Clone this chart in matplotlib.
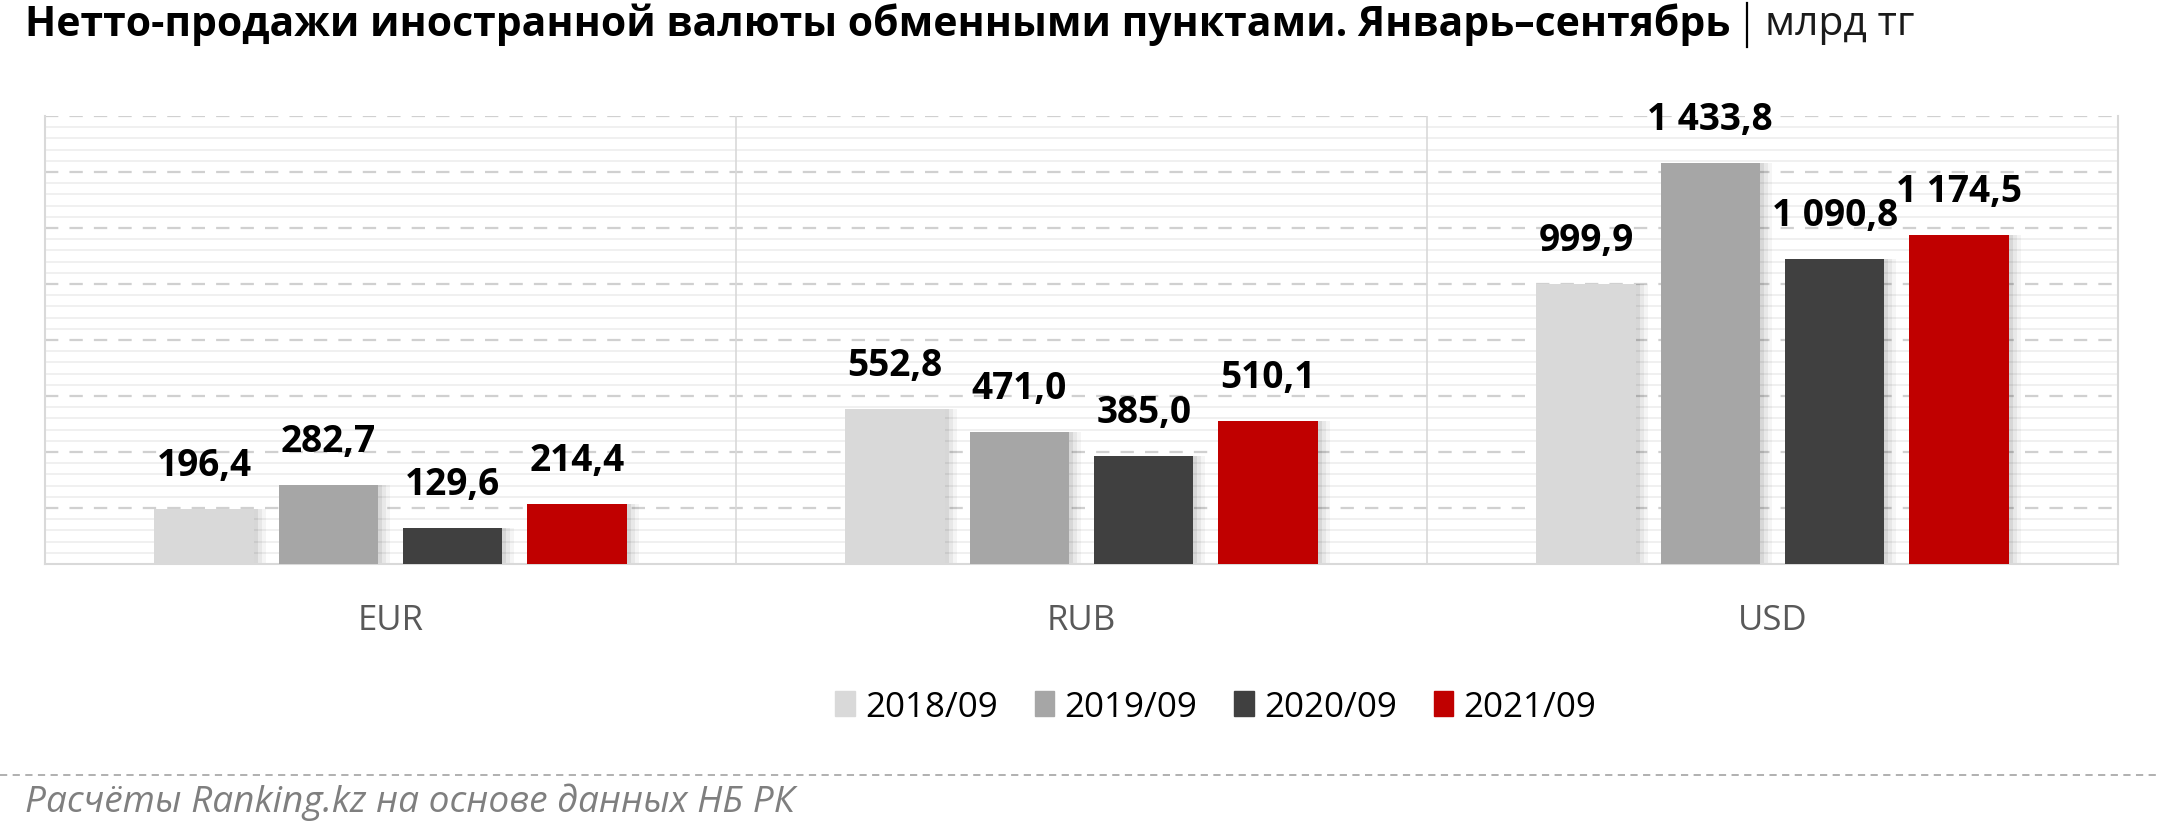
import matplotlib.pyplot as plt
import numpy as np
from matplotlib import font_manager
from matplotlib.patches import Rectangle
from matplotlib.lines import Line2D

currencies = ['EUR', 'RUB', 'USD']
periods = ['2018/09', '2019/09', '2020/09', '2021/09']
values_2018 = [196.4, 552.8, 999.9]
values_2019 = [282.7, 471.0, 1433.8]
values_2020 = [129.6, 385.0, 1090.8]
values_2021 = [214.4, 510.1, 1174.5]
series = [values_2018, values_2019, values_2020, values_2021]
colors = ['#D9D9D9', '#A6A6A6', '#404040', '#C00000']

title = 'Нетто-продажи иностранной валюты обменными пунктами. Январь–сентябрь'
unit = 'млрд тг'
source = 'Расчёты Ranking.kz на основе данных НБ РК'

# narrow face if present (closest to the Calibri look of the original)
names = {f.name for f in font_manager.fontManager.ttflist}
main_font = 'Liberation Sans Narrow' if 'Liberation Sans Narrow' in names else 'Open Sans'
plt.rcParams['font.family'] = [main_font, 'DejaVu Sans']

W, H = 2160, 828
fig = plt.figure(figsize=(W / 100, H / 100), dpi=100)
renderer = fig.canvas.get_renderer()


def fit_size(text, target_px, **kw):
    # font size that makes `text` about target_px wide
    t = fig.text(0, 0, text, fontsize=20, **kw)
    w = t.get_window_extent(renderer).width
    t.remove()
    return 20 * target_px / w


def fmt(v):
    # 1433.8 -> "1 433,8"
    return f'{v:,.1f}'.replace(',', ' ').replace('.', ',')


ax = fig.add_axes([45 / W, 1 - 565 / H, (2118 - 45) / W, (565 - 117) / H])

x = np.arange(len(currencies))
step = 0.18
width = 0.144
px = 1 / 690  # one pixel in x data units

label_size = fit_size('196,4', 95, fontweight='bold')

for i, vals in enumerate(series):
    pos = x + (i - 1.5) * step
    # soft shadow to the right
    for k, a in [(12, 0.04), (8, 0.05), (4, 0.07)]:
        ax.bar(pos + k * px / 2, vals, width=width + k * px, color='black',
               alpha=a, linewidth=0, zorder=2)
    ax.bar(pos, vals, width=width, color=colors[i], linewidth=0, zorder=3,
           label=periods[i])
    for xp, v in zip(pos, vals):
        ax.annotate(fmt(v), (xp, v), xytext=(0, 18), textcoords='offset points',
                    ha='center', va='bottom', fontsize=label_size,
                    fontweight='bold', color='#000000', zorder=4)

ax.set_xlim(-0.5, 2.5)
ax.set_ylim(0, 1600)

# grid: dashed majors every 200, light solid minors every 40
for yv in np.arange(40, 1600, 40):
    if yv % 200 == 0:
        continue
    ax.axhline(yv, color='#EDEDED', linewidth=1.2, zorder=0)
for yv in np.arange(200, 1601, 200):
    ax.axhline(yv, color='#D0D0D0', linewidth=1.6, linestyle=(0, (6, 5)), zorder=1)

for xv in [0.5, 1.5]:
    ax.axvline(xv, color='#D9D9D9', linewidth=1.2, zorder=1)

ax.set_yticks([])
ax.set_xticks(x)
ax.set_xticklabels(currencies, fontsize=fit_size('EUR', 66), color='#595959')
ax.tick_params(axis='x', length=0, pad=28)
for side in ['left', 'right', 'bottom']:
    ax.spines[side].set_color('#D9D9D9')
    ax.spines[side].set_linewidth(1.5)
ax.spines['top'].set_visible(False)

# legend
leg_size = fit_size('2018/09', 133)
handles = [Rectangle((0, 0), 1, 1, color=c) for c in colors]
fig.legend(handles, periods, loc='center', bbox_to_anchor=(1216 / W, 1 - 708 / H),
           ncol=4, frameon=False, fontsize=leg_size, handlelength=0.55,
           handleheight=0.7, handletextpad=0.3, columnspacing=1.05)

# title
title_size = fit_size(title, 1697, fontweight='bold')
t = fig.text(25 / W, 1 - 25 / H, title, fontsize=title_size, fontweight='bold',
             ha='left', va='center', color='#000000')
xr = t.get_window_extent(renderer).x1
fig.add_artist(Line2D([(xr + 17) / W] * 2, [1 - 4 / H, 1 - 48 / H],
                      color='#000000', linewidth=1.6))
fig.text((xr + 35) / W, 1 - 25 / H, unit, fontsize=title_size, ha='left',
         va='center', color='#1A1A1A')

# footer
fig.add_artist(Line2D([0, 1], [1 - 776 / H] * 2, color='#AAAAAA',
                      linewidth=1.3, linestyle=(0, (4, 3))))
fig.text(25 / W, 1 - 802 / H, source, fontsize=fit_size(source, 770, style='italic'),
         style='italic', ha='left', va='center', color='#7F7F7F')

fig.savefig('out.png', dpi=100)
